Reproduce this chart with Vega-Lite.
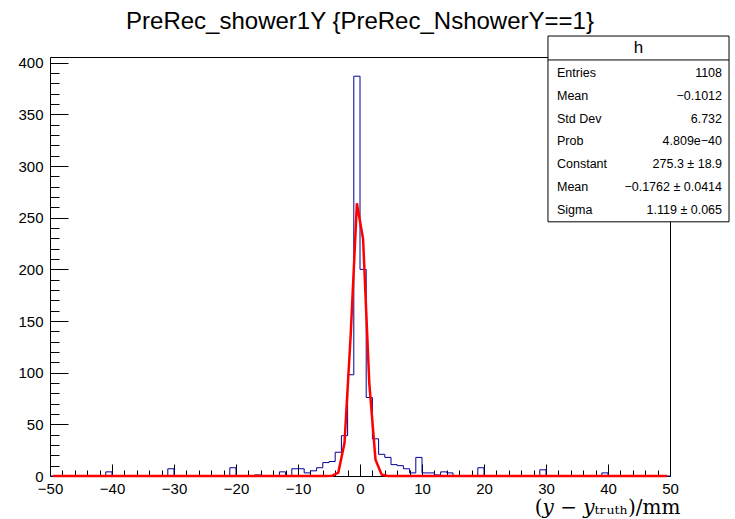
{
  "$schema": "https://vega.github.io/schema/vega-lite/v6.json",
  "width": 620,
  "height": 419,
  "autosize": "none",
  "padding": {"left": 50, "top": 57, "right": 65, "bottom": 43},
  "background": "white",
  "config": {"view": {"stroke": "black", "strokeWidth": 1}, "font": "Liberation Sans"},
  "title": {"text": "PreRec_shower1Y {PreRec_NshowerY==1}", "font": "Liberation Sans", "fontSize": 24, "fontWeight": "normal", "anchor": "middle", "offset": 2, "color": "black"},
  "datasets": {
    "h": [
      {"lo":-50,"c":-49.5,"n":0,"f":0},{"lo":-49,"c":-48.5,"n":0,"f":0},{"lo":-48,"c":-47.5,"n":0,"f":0},{"lo":-47,"c":-46.5,"n":0,"f":0},{"lo":-46,"c":-45.5,"n":0,"f":0},
      {"lo":-45,"c":-44.5,"n":0,"f":0},{"lo":-44,"c":-43.5,"n":0,"f":0},{"lo":-43,"c":-42.5,"n":0,"f":0},{"lo":-42,"c":-41.5,"n":0,"f":0},{"lo":-41,"c":-40.5,"n":4,"f":0},
      {"lo":-40,"c":-39.5,"n":0,"f":0},{"lo":-39,"c":-38.5,"n":0,"f":0},{"lo":-38,"c":-37.5,"n":0,"f":0},{"lo":-37,"c":-36.5,"n":0,"f":0},{"lo":-36,"c":-35.5,"n":0,"f":0},
      {"lo":-35,"c":-34.5,"n":0,"f":0},{"lo":-34,"c":-33.5,"n":0,"f":0},{"lo":-33,"c":-32.5,"n":0,"f":0},{"lo":-32,"c":-31.5,"n":0,"f":0},{"lo":-31,"c":-30.5,"n":7,"f":0},
      {"lo":-30,"c":-29.5,"n":0,"f":0},{"lo":-29,"c":-28.5,"n":0,"f":0},{"lo":-28,"c":-27.5,"n":0,"f":0},{"lo":-27,"c":-26.5,"n":0,"f":0},{"lo":-26,"c":-25.5,"n":0,"f":0},
      {"lo":-25,"c":-24.5,"n":0,"f":0},{"lo":-24,"c":-23.5,"n":0,"f":0},{"lo":-23,"c":-22.5,"n":0,"f":0},{"lo":-22,"c":-21.5,"n":0,"f":0},{"lo":-21,"c":-20.5,"n":8,"f":0},
      {"lo":-20,"c":-19.5,"n":0,"f":0},{"lo":-19,"c":-18.5,"n":0,"f":0},{"lo":-18,"c":-17.5,"n":0,"f":0},{"lo":-17,"c":-16.5,"n":1,"f":0},{"lo":-16,"c":-15.5,"n":0,"f":0},
      {"lo":-15,"c":-14.5,"n":0,"f":0},{"lo":-14,"c":-13.5,"n":0,"f":0},{"lo":-13,"c":-12.5,"n":4,"f":0},{"lo":-12,"c":-11.5,"n":0,"f":0},{"lo":-11,"c":-10.5,"n":7,"f":0},
      {"lo":-10,"c":-9.5,"n":7,"f":0},{"lo":-9,"c":-8.5,"n":3,"f":0},{"lo":-8,"c":-7.5,"n":5,"f":0},{"lo":-7,"c":-6.5,"n":8,"f":0},{"lo":-6,"c":-5.5,"n":13,"f":0},
      {"lo":-5,"c":-4.5,"n":14,"f":0.16},{"lo":-4,"c":-3.5,"n":23,"f":3.34},{"lo":-3,"c":-2.5,"n":39,"f":31.9},{"lo":-2,"c":-1.5,"n":98,"f":136.7},{"lo":-1,"c":-0.5,"n":387,"f":264.0},
      {"lo":0,"c":0.5,"n":200,"f":229.4},{"lo":1,"c":1.5,"n":76,"f":89.7},{"lo":2,"c":2.5,"n":36,"f":15.8},{"lo":3,"c":3.5,"n":21,"f":1.25},{"lo":4,"c":4.5,"n":18,"f":0.04},
      {"lo":5,"c":5.5,"n":11,"f":0},{"lo":6,"c":6.5,"n":10,"f":0},{"lo":7,"c":7.5,"n":7,"f":0},{"lo":8,"c":8.5,"n":3,"f":0},{"lo":9,"c":9.5,"n":18,"f":0},
      {"lo":10,"c":10.5,"n":3,"f":0},{"lo":11,"c":11.5,"n":3,"f":0},{"lo":12,"c":12.5,"n":1,"f":0},{"lo":13,"c":13.5,"n":4,"f":0},{"lo":14,"c":14.5,"n":3,"f":0},
      {"lo":15,"c":15.5,"n":0,"f":0},{"lo":16,"c":16.5,"n":0,"f":0},{"lo":17,"c":17.5,"n":0,"f":0},{"lo":18,"c":18.5,"n":0,"f":0},{"lo":19,"c":19.5,"n":8,"f":0},
      {"lo":20,"c":20.5,"n":0,"f":0},{"lo":21,"c":21.5,"n":0,"f":0},{"lo":22,"c":22.5,"n":0,"f":0},{"lo":23,"c":23.5,"n":0,"f":0},{"lo":24,"c":24.5,"n":0,"f":0},
      {"lo":25,"c":25.5,"n":0,"f":0},{"lo":26,"c":26.5,"n":0,"f":0},{"lo":27,"c":27.5,"n":0,"f":0},{"lo":28,"c":28.5,"n":0,"f":0},{"lo":29,"c":29.5,"n":6,"f":0},
      {"lo":30,"c":30.5,"n":0,"f":0},{"lo":31,"c":31.5,"n":0,"f":0},{"lo":32,"c":32.5,"n":0,"f":0},{"lo":33,"c":33.5,"n":0,"f":0},{"lo":34,"c":34.5,"n":0,"f":0},
      {"lo":35,"c":35.5,"n":0,"f":0},{"lo":36,"c":36.5,"n":0,"f":0},{"lo":37,"c":37.5,"n":0,"f":0},{"lo":38,"c":38.5,"n":0,"f":0},{"lo":39,"c":39.5,"n":3,"f":0},
      {"lo":40,"c":40.5,"n":0,"f":0},{"lo":41,"c":41.5,"n":0,"f":0},{"lo":42,"c":42.5,"n":0,"f":0},{"lo":43,"c":43.5,"n":0,"f":0},{"lo":44,"c":44.5,"n":0,"f":0},
      {"lo":45,"c":45.5,"n":0,"f":0},{"lo":46,"c":46.5,"n":0,"f":0},{"lo":47,"c":47.5,"n":0,"f":0},{"lo":48,"c":48.5,"n":0,"f":0},{"lo":49,"c":49.5,"n":0,"f":0},
      {"lo":50,"n":0}
    ],
    "stats": [
      {"idx":0,"label":"Entries","value":"1108"},
      {"idx":1,"label":"Mean","value":"−0.1012"},
      {"idx":2,"label":"Std Dev","value":"6.732"},
      {"idx":3,"label":"Prob","value":"4.809e−40"},
      {"idx":4,"label":"Constant","value":"275.3 ± 18.9"},
      {"idx":5,"label":"Mean","value":"−0.1762 ± 0.0414"},
      {"idx":6,"label":"Sigma","value":"1.119 ± 0.065"}
    ]
  },
  "layer": [
    {
      "layer": [
        {
          "data": {"name": "h"},
          "mark": {"type": "line", "interpolate": "step-after", "color": "#000099", "strokeWidth": 1},
          "encoding": {
            "x": {"field": "lo", "type": "quantitative", "scale": {"domain": [-50, 50], "nice": false, "zero": false},
                  "axis": {"orient": "bottom", "values": [-50,-40,-30,-20,-10,0,10,20,30,40,50], "tickSize": -12, "tickColor": "black", "domain": false, "grid": false, "labelFontSize": 15, "labelColor": "black", "labelPadding": 17, "labelFlush": false,
                           "title": "(𝑦 − 𝑦ₜᵣᵤₜₕ)/mm", "titleFont": "DejaVu Serif", "titleFontSize": 20, "titleFontWeight": "normal", "titleColor": "black", "titleAlign": "right", "titleAnchor": "end", "titleX": 630, "titleY": 37, "titleBaseline": "alphabetic"}},
            "y": {"field": "n", "type": "quantitative", "scale": {"domain": [0, 405.6], "nice": false},
                  "axis": {"orient": "left", "values": [0,50,100,150,200,250,300,350,400], "tickSize": -18, "tickColor": "black", "domain": false, "grid": false, "labelFontSize": 15, "labelColor": "black", "labelPadding": 25, "title": null}}
          }
        },
        {
          "data": {"name": "h"},
          "mark": {"type": "line", "color": "#ff0000", "strokeWidth": 2.5},
          "encoding": {
            "x": {"field": "c", "type": "quantitative",
                  "axis": {"orient": "bottom", "values": [-48,-46,-44,-42,-38,-36,-34,-32,-28,-26,-24,-22,-18,-16,-14,-12,-8,-6,-4,-2,2,4,6,8,12,14,16,18,22,24,26,28,32,34,36,38,42,44,46,48], "tickSize": -6, "tickColor": "black", "domain": false, "grid": false, "labels": false, "title": null}},
            "y": {"field": "f", "type": "quantitative",
                  "axis": {"orient": "left", "values": [10,20,30,40,60,70,80,90,110,120,130,140,160,170,180,190,210,220,230,240,260,270,280,290,310,320,330,340,360,370,380,390], "tickSize": -9, "tickColor": "black", "domain": false, "grid": false, "labels": false, "title": null}}
          }
        }
      ],
      "resolve": {"axis": {"x": "independent", "y": "independent"}}
    },
    {
      "layer": [
        {
          "data": {"values": [{}]},
          "mark": {"type": "rect", "fill": "white", "stroke": "black", "strokeWidth": 1, "clip": false},
          "encoding": {
            "x": {"datum": 30.32, "type": "quantitative", "scale": {"domain": [-50, 50], "nice": false, "zero": false}, "axis": null},
            "x2": {"datum": 59.52},
            "y": {"datum": -1.62, "type": "quantitative", "scale": {"domain": [-0.70, 17.68], "reverse": true, "nice": false, "zero": false}, "axis": null},
            "y2": {"datum": 6.53}
          }
        },
        {
          "data": {"values": [{}]},
          "mark": {"type": "rule", "color": "black", "strokeWidth": 1, "clip": false},
          "encoding": {
            "x": {"datum": 30.32, "type": "quantitative", "axis": null},
            "x2": {"datum": 59.52},
            "y": {"datum": -0.57, "type": "quantitative", "axis": null}
          }
        },
        {
          "data": {"values": [{"t": "h"}]},
          "mark": {"type": "text", "fontSize": 17, "align": "center", "baseline": "middle", "color": "black", "clip": false},
          "encoding": {
            "x": {"datum": 44.92, "type": "quantitative", "axis": null},
            "y": {"datum": -1.10, "type": "quantitative", "axis": null},
            "text": {"field": "t"}
          }
        },
        {
          "data": {"name": "stats"},
          "mark": {"type": "text", "fontSize": 12.5, "align": "left", "baseline": "middle", "color": "black", "clip": false},
          "encoding": {
            "x": {"datum": 31.77, "type": "quantitative", "axis": null},
            "y": {"field": "idx", "type": "quantitative", "axis": null},
            "text": {"field": "label"}
          }
        },
        {
          "data": {"name": "stats"},
          "mark": {"type": "text", "fontSize": 12.5, "align": "right", "baseline": "middle", "color": "black", "clip": false},
          "encoding": {
            "x": {"datum": 58.39, "type": "quantitative", "axis": null},
            "y": {"field": "idx", "type": "quantitative", "axis": null},
            "text": {"field": "value"}
          }
        }
      ]
    }
  ],
  "resolve": {"scale": {"y": "independent"}, "axis": {"x": "independent", "y": "independent"}}
}
